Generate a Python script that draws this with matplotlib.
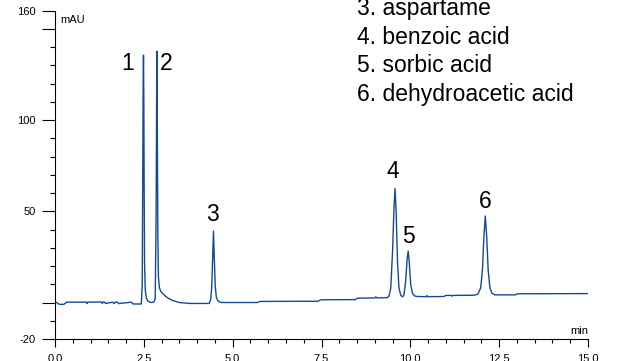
import matplotlib
matplotlib.use("Agg")
import matplotlib.pyplot as plt
from matplotlib.ticker import MultipleLocator, FixedLocator, FixedFormatter

plt.rcParams['font.family'] = ['Liberation Sans', 'DejaVu Sans']

# Retention time (min) and detector response (mAU) of the chromatogram trace
time_min = [
    0.00, 0.05, 0.10, 0.15, 0.25, 0.30, 0.35, 0.88, 0.90, 0.92,
    1.30, 1.33, 1.36, 1.40, 1.42, 1.63, 1.66, 1.70, 1.76, 1.79,
    2.15, 2.20, 2.43, 2.455, 2.47, 2.48, 2.49, 2.50, 2.51, 2.52,
    2.54, 2.57, 2.62, 2.70, 2.78, 2.82, 2.845, 2.86, 2.87, 2.88,
    2.895, 2.91, 2.94, 2.98, 3.05, 3.15, 3.30, 3.50, 3.80, 4.34,
    4.38, 4.41, 4.44, 4.46, 4.48, 4.51, 4.54, 4.58, 4.64, 4.72,
    5.68, 5.78, 7.40, 7.48, 8.45, 8.52, 9.00, 9.03, 9.06, 9.35,
    9.40, 9.45, 9.50, 9.54, 9.57, 9.60, 9.64, 9.68, 9.73, 9.78,
    9.82, 9.87, 9.91, 9.94, 9.97, 10.01, 10.06, 10.12, 10.20, 10.45,
    10.47, 10.49, 10.95, 11.00, 11.15, 11.17, 11.19, 11.80, 11.90, 11.98,
    12.03, 12.07, 12.11, 12.15, 12.19, 12.24, 12.30, 12.38, 12.95, 13.02,
    15.00,
]
signal_mau = [
    0.2, 0.0, -0.8, -1.0, -1.0, -0.2, 0.2, 0.2, -0.6, 0.2,
    0.3, -0.5, 0.3, 0.2, -0.5, 0.2, -0.6, 0.2, 0.2, -0.6,
    0.2, -0.8, -0.8, 10.0, 70.0, 115.0, 135.6, 110.0, 60.0, 22.0,
    7.0, 2.5, 0.6, 0.0, 0.2, 2.0, 45.0, 110.0, 137.8, 95.0,
    35.0, 14.0, 8.0, 6.0, 4.5, 2.8, 1.2, 0.0, -0.5, -0.5,
    1.5, 8.0, 26.0, 39.2, 26.0, 9.0, 3.0, 1.0, 0.2, 0.0,
    0.0, 0.6, 0.7, 1.5, 1.6, 2.4, 2.5, 3.1, 2.5, 2.7,
    3.5, 8.0, 28.0, 52.0, 62.5, 50.0, 22.0, 8.0, 4.0, 3.1,
    4.0, 12.0, 24.0, 28.2, 22.0, 10.0, 5.0, 3.6, 3.3, 3.2,
    3.8, 3.2, 3.3, 3.9, 3.9, 3.5, 3.9, 4.0, 4.6, 8.0,
    18.0, 36.0, 47.4, 36.0, 18.0, 8.0, 5.0, 4.2, 4.2, 4.8,
    4.9,
]

peak_labels = ['1', '2', '3', '4', '5', '6']
# label anchor (time, mAU) for each peak number
peak_label_x = [2.03, 3.12, 4.43, 9.50, 9.96, 12.10]
peak_label_y = [127.5, 127.5, 44.6, 68.1, 32.6, 51.7]

compound_names = [
    '3. aspartame',
    '4. benzoic acid',
    '5. sorbic acid',
    '6. dehydroacetic acid',
]

y_ticks = [-20, 0, 50, 100, 150, 160]
y_tick_labels = ['-20', '', '50', '100', '', '160']
x_ticks = [0.0, 2.5, 5.0, 7.5, 10.0, 12.5, 15.0]
x_tick_labels = ['0.0', '2.5', '5.0', '7.5', '10.0', '12.5', '15.0']

W, H = 618, 361
fig = plt.figure(figsize=(W / 100, H / 100), dpi=100)
ax = fig.add_axes([55 / W, 1 - 339 / H, (588 - 55) / W, (339 - 10.7) / H])

ax.plot(time_min, signal_mau, color='#124a94', lw=1.0, solid_joinstyle='round')

ax.set_xlim(0, 15)
ax.set_ylim(-20, 160)

for side in ('top', 'right'):
    ax.spines[side].set_visible(False)
for side in ('left', 'bottom'):
    ax.spines[side].set_linewidth(0.8)

ax.xaxis.set_major_locator(FixedLocator(x_ticks))
ax.xaxis.set_major_formatter(FixedFormatter(x_tick_labels))
ax.xaxis.set_minor_locator(MultipleLocator(0.5))
ax.yaxis.set_major_locator(FixedLocator(y_ticks))
ax.yaxis.set_major_formatter(FixedFormatter(y_tick_labels))
ax.yaxis.set_minor_locator(MultipleLocator(10))

ax.tick_params(axis='x', which='major', direction='out', length=5.8, width=0.8,
               pad=4.8, labelsize=8)
ax.tick_params(axis='x', which='minor', direction='out', length=3.0, width=0.8)
ax.tick_params(axis='y', which='major', direction='out', length=9.2, width=0.8,
               pad=4.5, labelsize=8)
ax.tick_params(axis='y', which='minor', direction='out', length=3.6, width=0.8)

for lab, x, y in zip(peak_labels, peak_label_x, peak_label_y):
    ax.text(x, y, lab, ha='center', va='baseline', fontsize=16.5)

fig.text(60 / W, 1 - 20 / H, 'mAU', ha='left', va='center', fontsize=8)
fig.text(588 / W, 1 - 331 / H, 'min', ha='right', va='center', fontsize=8)

# compound list in the upper right, running up to the top edge
line_step = 28.4
first_baseline = 15.5
for i, name in enumerate(compound_names):
    fig.text(357 / W, 1 - (first_baseline + i * line_step) / H, name,
             ha='left', va='baseline', fontsize=16.5)

fig.savefig('out.png', dpi=100)
